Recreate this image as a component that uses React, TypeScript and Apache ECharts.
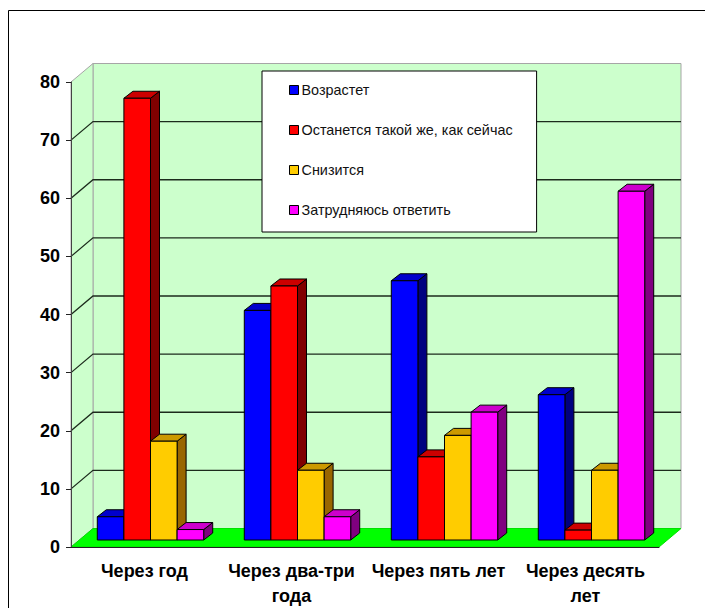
import React, { useEffect, useRef } from "react";
import * as echarts from "echarts";

const categories = ["Через год", "Через два-три\nгода", "Через пять лет", "Через десять\nлет"];
const seriesNames = ["Возрастет", "Останется такой же, как сейчас", "Снизится", "Затрудняюсь ответить"];
const growth = [4, 39.5, 44.6, 25];
const unchanged = [76, 43.7, 14.3, 1.7];
const decline = [17, 12, 18, 12];
const undecided = [1.8, 4, 22, 60];
const valueTicks = [0, 10, 20, 30, 40, 50, 60, 70, 80];

const faceColors = ["#0000ff", "#ff0000", "#ffcc00", "#ff00ff"];
const topColors = ["#0000cc", "#cc0000", "#cc9900", "#cc00cc"];
const sideColors = ["#000080", "#800000", "#996600", "#800080"];

// Depth of the box walls and of each column, in pixels
const WALL_DX = 22;
const WALL_DY = 18.5;
const BAR_DX = 9;
const BAR_DY = 7;
const BAR_LIFT = 7;
const GROUP_SHIFT = 6;
const BAR_SHARE = 0.181;

const poly = (points: number[][], fill: string, stroke: string, z2 = 0, lineWidth = 1) => ({
  type: "polygon",
  z2,
  shape: { points },
  style: { fill, stroke, lineWidth },
});

const renderWalls = (_: any, api: any) => {
  const [x0, y0] = api.coord([0, 0]);
  const band = api.size([1, 0])[0];
  const left = x0 - band / 2;
  const right = left + band * categories.length;
  const top = api.coord([0, 80])[1];
  const grey = "#a6a6a6";
  const children: any[] = [
    poly(
      [[left + WALL_DX, top - WALL_DY], [right + WALL_DX, top - WALL_DY], [right + WALL_DX, y0 - WALL_DY], [left + WALL_DX, y0 - WALL_DY]],
      "#ccffcc",
      grey,
    ),
    poly(
      [[left, top], [left + WALL_DX, top - WALL_DY], [left + WALL_DX, y0 - WALL_DY], [left, y0]],
      "#ccffcc",
      grey,
    ),
  ];
  valueTicks.slice(1, -1).forEach((t) => {
    const y = api.coord([0, t])[1];
    children.push({
      type: "polyline",
      shape: { points: [[left, y], [left + WALL_DX, y - WALL_DY], [right + WALL_DX, y - WALL_DY]] },
      style: { fill: "none", stroke: "#1c2b1c", lineWidth: 1.3 },
    });
  });
  children.push(
    poly(
      [[left, y0], [left + WALL_DX, y0 - WALL_DY], [right + WALL_DX, y0 - WALL_DY], [right, y0]],
      "#00ff00",
      "#00e000",
    ),
  );
  return { type: "group", children };
};

const renderColumn = (seriesIndex: number) => (_: any, api: any) => {
  const cat = api.value(0);
  const [cx, y0] = api.coord([cat, 0]);
  const [, yTop] = api.coord([cat, api.value(1)]);
  const band = api.size([1, 0])[0];
  const width = band * BAR_SHARE;
  const x1 = cx + GROUP_SHIFT + (seriesIndex - 2) * width;
  const x2 = x1 + width;
  const base = y0 - BAR_LIFT;
  const top = yTop - BAR_LIFT;
  const ink = "#000000";
  return {
    type: "group",
    children: [
      poly([[x2, top], [x2 + BAR_DX, top - BAR_DY], [x2 + BAR_DX, base - BAR_DY], [x2, base]], sideColors[seriesIndex], ink),
      poly([[x1, top], [x1 + BAR_DX, top - BAR_DY], [x2 + BAR_DX, top - BAR_DY], [x2, top]], topColors[seriesIndex], ink),
      poly([[x1, top], [x2, top], [x2, base], [x1, base]], faceColors[seriesIndex], ink),
    ],
  };
};

const columnValues = [growth, unchanged, decline, undecided];

export default function App() {
  const ref = useRef<HTMLDivElement>(null);

  useEffect(() => {
    const chart = echarts.init(ref.current!, undefined, { renderer: "svg" });
    chart.setOption({
      animation: false,
      backgroundColor: "#ffffff",
      grid: { left: 71, right: 46, top: 82, bottom: 61 },
      xAxis: {
        type: "category",
        data: categories,
        z: 5,
        axisLine: { lineStyle: { color: "#222222", width: 1 } },
        axisTick: { length: 6, lineStyle: { color: "#222222" } },
        axisLabel: {
          color: "#000000",
          fontFamily: "Liberation Sans",
          fontWeight: "bold",
          fontSize: 18,
          lineHeight: 25,
          margin: 11,
          interval: 0,
        },
      },
      yAxis: {
        type: "value",
        min: 0,
        max: 80,
        interval: 10,
        z: 5,
        axisLine: { show: true, lineStyle: { color: "#444444", width: 1 } },
        axisTick: { show: true, length: 5, lineStyle: { color: "#222222" } },
        axisLabel: {
          color: "#000000",
          fontFamily: "Liberation Sans",
          fontWeight: "bold",
          fontSize: 18,
          margin: 11,
        },
        splitLine: { show: false },
      },
      legend: {
        left: 262,
        top: 71,
        orient: "vertical",
        z: 6,
        icon: "rect",
        itemWidth: 9,
        itemHeight: 9,
        itemGap: 26,
        padding: [12, 24, 15, 27],
        backgroundColor: "#ffffff",
        borderColor: "#000000",
        borderWidth: 1,
        selectedMode: false,
        textStyle: {
          color: "#111111",
          fontFamily: "Liberation Sans",
          fontSize: 14.4,
          lineHeight: 14,
          padding: [0, 0, 0, -2],
        },
        data: seriesNames.map((name, i) => ({
          name,
          itemStyle: { color: faceColors[i], borderColor: "#000000", borderWidth: 1 },
        })),
      },
      graphic: [
        {
          type: "polyline",
          silent: true,
          shape: { points: [[8.5, 608], [8.5, 10.5], [705, 10.5]] },
          style: { fill: "none", stroke: "#000000", lineWidth: 1 },
        },
      ],
      series: [
        {
          type: "custom",
          name: "walls",
          z: 1,
          silent: true,
          clip: false,
          renderItem: renderWalls,
          data: [[0, 0]],
        },
        ...seriesNames.map((name, i) => ({
          type: "custom",
          name,
          z: 2,
          clip: false,
          itemStyle: { color: faceColors[i] },
          encode: { x: 0, y: 1 },
          renderItem: renderColumn(i),
          data: columnValues[i].map((v, c) => [c, v]),
        })),
      ],
    });
    return () => chart.dispose();
  }, []);

  return <div ref={ref} style={{ position: "absolute", left: 0, top: 0, width: 705, height: 608 }} />;
}
